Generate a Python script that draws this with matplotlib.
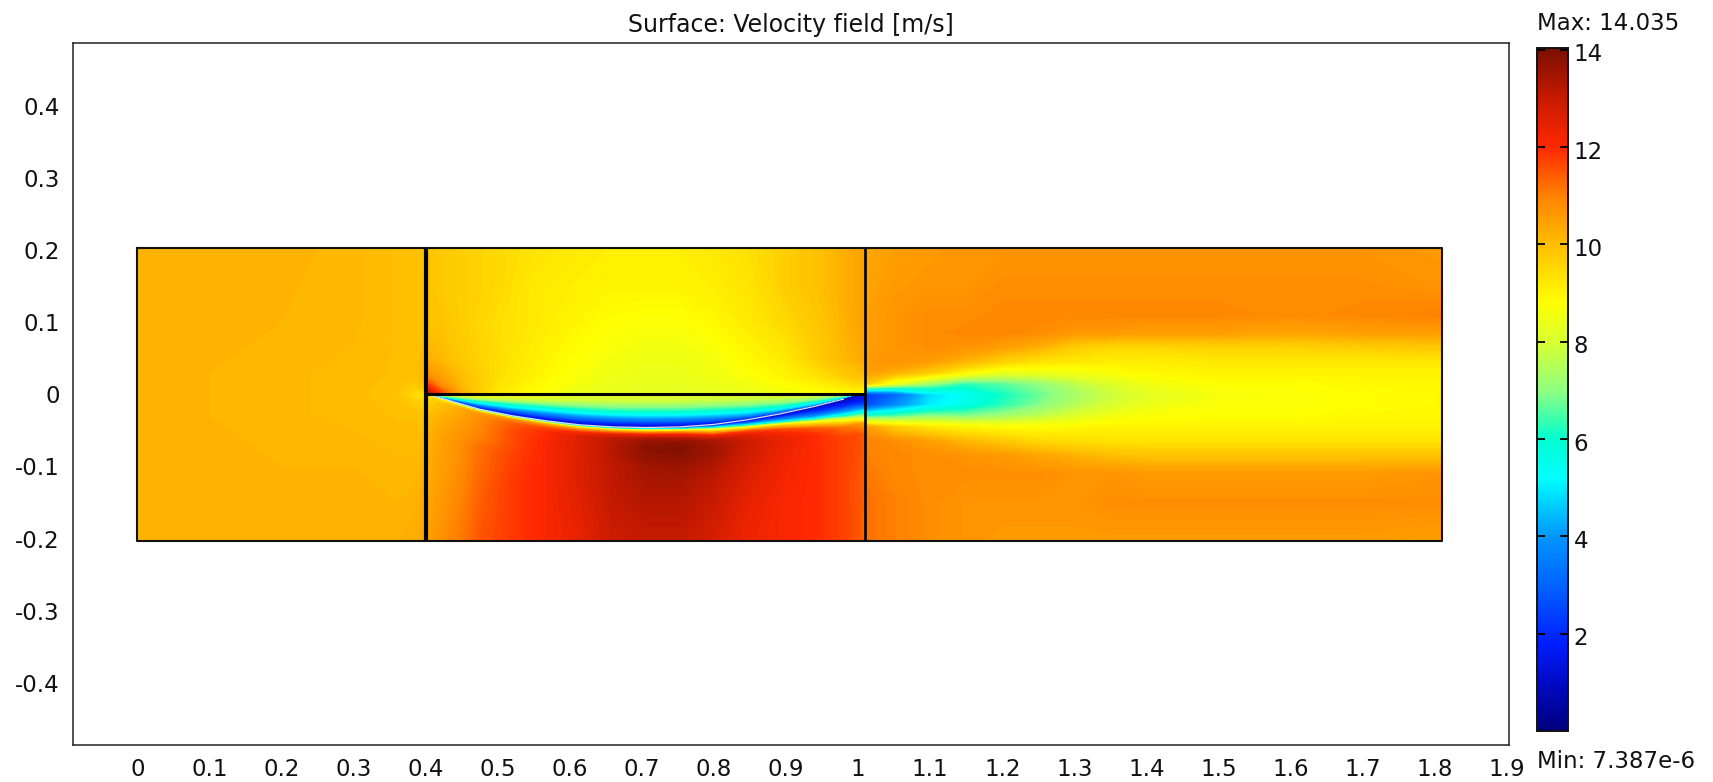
import numpy as np
from matplotlib import pyplot as plt
from matplotlib.cm import ScalarMappable
from matplotlib.colors import LinearSegmentedColormap, Normalize
from matplotlib.transforms import ScaledTranslation

# colour bar
cbar_vals = [0, 0.9, 1.8, 3, 4, 5.2, 6, 7, 8, 8.8, 10, 11, 12, 13, 14.035]
cbar_cols = ["#00007d", "#0008c0", "#001eff", "#0064ff", "#0096ff", "#00ffff", "#00ffcf",
             "#90ff80", "#d8ff30", "#ffff00", "#ffbe00", "#ff8200", "#ff2800", "#c81a00", "#7a0f00"]

# foil arc, bottom edge of the wedge
arc_x = [0.4, 0.41, 0.45, 0.475, 0.521, 0.568, 0.614, 0.66, 0.706, 0.753, 0.799, 0.845, 0.892, 0.938, 0.98, 1.0, 1.01]
arc_y = [0, -0.002, -0.0135, -0.0206, -0.0298, -0.0368, -0.0423, -0.0451, -0.046, -0.0451, -0.0418, -0.0355, -0.027, -0.017, -0.0065, -0.0015, 0]

# inlet part
in_x = [0, 0.1, 0.2, 0.3, 0.36, 0.385, 0.4]
in_y = [0.2035, 0.1, 0.03, 0.01, 0, -0.01, -0.03, -0.1, -0.2035]
in_v = [
    [10.2, 10.2, 10.2, 10.1, 10, 9.95, 9.9],
    [10.2, 10.2, 10.15, 10.1, 10, 10, 10],
    [10.2, 10.15, 10.1, 10.05, 10, 10, 10.1],
    [10.2, 10.15, 10.1, 10.05, 9.95, 9.7, 10.0],
    [10.2, 10.15, 10.1, 10.05, 9.9, 9.35, 9.2],
    [10.2, 10.15, 10.1, 10.05, 9.95, 9.7, 9.5],
    [10.2, 10.15, 10.1, 10.05, 10, 10, 9.9],
    [10.2, 10.2, 10.15, 10.15, 10.1, 10.1, 10.2],
    [10.2, 10.2, 10.2, 10.2, 10.2, 10.3, 10.4],
]

# above the flat line
up_x = [0.4, 0.405, 0.42, 0.45, 0.5, 0.55, 0.6, 0.65, 0.7, 0.75, 0.8, 0.85, 0.9, 0.95, 1.0, 1.01]
up_y = [0, 0.004, 0.012, 0.025, 0.05, 0.1, 0.15, 0.2035]
up_v = [
    [12.8, 13, 11.8, 10.1, 9.1, 8.7, 8.4, 8.3, 8.2, 8.2, 8.2, 8.3, 8.5, 8.8, 8.9, 8.0],
    [12.5, 12.6, 11.6, 10.2, 9.2, 8.8, 8.5, 8.4, 8.3, 8.3, 8.3, 8.4, 8.6, 8.8, 9.0, 8.8],
    [11.5, 11.8, 10.9, 10.1, 9.3, 8.9, 8.6, 8.4, 8.3, 8.3, 8.4, 8.5, 8.8, 9.0, 9.4, 9.4],
    [10.7, 10.8, 10.5, 10, 9.4, 9, 8.7, 8.5, 8.4, 8.4, 8.5, 8.7, 9, 9.4, 9.9, 10],
    [10.2, 10.2, 10.1, 9.8, 9.4, 9.1, 8.8, 8.6, 8.5, 8.5, 8.6, 8.9, 9.2, 9.8, 10.3, 10.4],
    [9.9, 9.9, 9.9, 9.7, 9.4, 9.2, 9, 8.8, 8.7, 8.7, 8.9, 9.2, 9.5, 9.9, 10.4, 10.5],
    [9.9, 9.9, 9.8, 9.7, 9.5, 9.2, 9.1, 9, 9, 9, 9.1, 9.3, 9.7, 10, 10.4, 10.5],
    [9.9, 9.9, 9.8, 9.7, 9.5, 9.3, 9.2, 9.1, 9.1, 9.1, 9.2, 9.4, 9.7, 10, 10.4, 10.5],
]

# wedge between flat line and arc, rows are fractions of the local depth
wedge_f = [0, 0.2, 0.4, 0.6, 0.8, 0.95, 1]
wedge_v = [
    [9, 9, 8.7, 8.6, 8.5, 8.4, 8.3, 8.3, 8.2, 8.2, 8.2, 8.2, 8.3, 8.3, 8.0, 7.5, 4],
    [9, 8.5, 8, 8, 7.9, 7.9, 7.8, 7.8, 7.8, 7.8, 7.7, 7.7, 7.7, 7.6, 7.0, 6.0, 3.5],
    [9, 7, 6.5, 6.5, 6.5, 6.6, 6.7, 6.8, 6.8, 6.8, 6.8, 6.9, 7.0, 7.0, 6.5, 5.5, 3],
    [9, 5, 5, 5, 5, 5, 5.2, 5.3, 5.4, 5.4, 5.5, 5.8, 6.0, 6.0, 5.6, 4.8, 2.6],
    [9, 3, 2.8, 2.8, 2.8, 2.9, 3, 3.1, 3.2, 3.3, 3.6, 4.2, 4.5, 4.6, 4.4, 3.6, 2.2],
    [9, 1.5, 1.2, 1.2, 1.2, 1.2, 1.2, 1.2, 1.3, 1.4, 1.6, 2.0, 2.2, 2.4, 2.4, 2.2, 2],
    [9.0, 3.0, 1.0, 1.0, 1.0, 1.0, 1.0, 0.6, 0.5, 0.5, 0.5, 0.5, 0.6, 0.6, 0.8, 1.2, 2.0],
]

# below the arc: first rows follow the arc by an offset, last rows are fixed levels
low_off = [0, 0.002, 0.004, 0.007, 0.011, 0.016, 0.022, 0.03, 0.04, 0.055]
low_lev = [-0.12, -0.16, -0.2035]
low_v = [
    [9.0, 3.0, 1.0, 1.0, 1.0, 1.0, 1.0, 0.6, 0.5, 0.5, 0.5, 0.5, 0.6, 0.6, 0.8, 1.2, 2.0],
    [9.2, 9.0, 7.0, 7.0, 7.0, 6.5, 6.0, 5.5, 5.0, 4.0, 2.5, 1.6, 1.2, 1.0, 1.0, 1.2, 1.8],
    [9.3, 9.5, 9.8, 10, 10, 9.8, 9.4, 9.0, 8.5, 7.5, 5.0, 2.8, 1.8, 1.4, 1.2, 1.3, 1.6],
    [9.4, 9.7, 10.3, 10.6, 11, 11, 10.9, 10.9, 10.8, 10.5, 8.3, 5.0, 3.2, 2.0, 1.5, 1.5, 1.6],
    [9.5, 9.8, 10.4, 10.8, 11.4, 11.7, 12, 12.4, 12.4, 12.2, 10.5, 9.0, 5.0, 3.0, 2.2, 2.0, 2.0],
    [9.6, 9.9, 10.4, 10.8, 11.5, 12, 12.6, 13.1, 13.4, 13.2, 12.3, 11.6, 9.6, 4.6, 3.5, 3.2, 3.0],
    [9.7, 10, 10.5, 10.9, 11.6, 12, 12.6, 13.2, 13.7, 13.8, 13.3, 12.6, 11.6, 8.8, 5.2, 4.8, 4.8],
    [9.9, 10.1, 10.6, 10.9, 11.6, 12.1, 12.6, 13.2, 13.8, 13.9, 13.5, 12.9, 12.3, 11.4, 8.8, 7.5, 7.2],
    [10, 10.2, 10.7, 11, 11.6, 12.1, 12.6, 13.2, 13.7, 13.8, 13.5, 12.9, 12.4, 12, 11.2, 10.7, 10.4],
    [10.1, 10.3, 10.8, 11.2, 11.7, 12.1, 12.6, 13.1, 13.5, 13.6, 13.3, 12.8, 12.3, 12, 11.7, 11.6, 11.4],
    [10.2, 10.4, 10.9, 11.3, 11.8, 12.1, 12.6, 13.1, 13.4, 13.4, 13.1, 12.6, 12.2, 12, 11.7, 11.5, 11.4],
    [10.3, 10.5, 11, 11.4, 11.8, 12.1, 12.5, 13, 13.2, 13.2, 12.9, 12.4, 12.1, 12, 11.7, 11.5, 11.3],
    [10.4, 10.6, 11.1, 11.5, 11.8, 12.1, 12.4, 12.9, 13.0, 13.0, 12.7, 12.3, 12.1, 12, 11.7, 11.5, 11.3],
]

# wake part
wake_x = [1.01, 1.05, 1.1, 1.15, 1.2, 1.25, 1.3, 1.35, 1.4, 1.5, 1.6, 1.7, 1.81]
wake_y = [0.2035, 0.15, 0.11, 0.085, 0.065, 0.045, 0.03, 0.015, 0, -0.015, -0.03, -0.045, -0.065, -0.085, -0.11, -0.15, -0.2035]
wake_v = [
    [10.4, 10.5, 10.6, 10.7, 10.7, 10.7, 10.7, 10.7, 10.7, 10.7, 10.7, 10.7, 10.6],
    [10.4, 10.6, 10.7, 10.7, 10.8, 10.8, 10.8, 10.8, 10.8, 10.8, 10.8, 10.8, 10.7],
    [10.5, 10.7, 10.8, 10.8, 10.9, 10.9, 10.9, 10.9, 10.9, 10.9, 10.8, 10.9, 11.0],
    [10.5, 10.7, 10.8, 10.9, 10.9, 10.8, 10.6, 10.6, 10.5, 10.5, 10.4, 10.5, 10.5],
    [10.5, 10.7, 10.8, 10.7, 10.5, 10.2, 9.7, 9.5, 9.5, 9.6, 9.6, 9.7, 9.8],
    [10.6, 10.7, 10.5, 10.1, 9.6, 9.3, 9.2, 9.1, 9.1, 9.2, 9.2, 9.2, 9.2],
    [10.5, 10.2, 9.7, 8.9, 8.3, 8.4, 8.5, 8.7, 8.9, 9.0, 9.0, 9.0, 9.0],
    [9.8, 8.4, 7.2, 6.3, 6.6, 7.0, 7.6, 8.1, 8.5, 8.8, 8.8, 8.9, 8.9],
    [2.2, 3.0, 4.8, 5.4, 6.1, 6.7, 7.3, 7.8, 8.2, 8.6, 8.7, 8.8, 8.9],
    [2.5, 3.8, 5.0, 5.6, 6.3, 6.9, 7.5, 8.0, 8.4, 8.7, 8.7, 8.8, 8.9],
    [6.2, 6.5, 7.0, 6.9, 7.2, 7.6, 8.1, 8.5, 8.7, 8.8, 8.8, 8.9, 8.9],
    [10.5, 9.7, 9.2, 8.9, 8.8, 8.8, 8.9, 9, 9, 9, 9, 9, 9.0],
    [11, 10.8, 10.5, 10.1, 9.8, 9.5, 9.4, 9.3, 9.3, 9.3, 9.3, 9.3, 9.3],
    [11, 10.9, 10.8, 10.7, 10.6, 10.4, 10.2, 10.0, 9.9, 9.9, 9.9, 9.9, 9.9],
    [11.1, 10.9, 10.8, 10.8, 10.8, 10.8, 10.7, 10.7, 10.6, 10.6, 10.6, 10.6, 10.7],
    [11.2, 11, 10.8, 10.7, 10.7, 10.7, 10.7, 10.8, 10.8, 10.8, 10.8, 10.8, 10.8],
    [11.2, 11, 10.8, 10.7, 10.6, 10.6, 10.6, 10.6, 10.6, 10.6, 10.6, 10.6, 10.5],
]

x_ticks = [0, 0.1, 0.2, 0.3, 0.4, 0.5, 0.6, 0.7, 0.8, 0.9, 1, 1.1, 1.2, 1.3, 1.4, 1.5, 1.6, 1.7, 1.8, 1.9]
y_ticks = [-0.4, -0.3, -0.2, -0.1, 0, 0.1, 0.2, 0.3, 0.4]
cbar_ticks = [2, 4, 6, 8, 10, 12, 14]

W, H = 1713, 782
FONT = 16.5
TEXT = "#111111"


def px_axes(fig, left, top, right, bottom):
    return fig.add_axes([left / W, 1 - bottom / H, (right - left) / W, (bottom - top) / H])


def tick_text(v):
    return "0" if v == 0 else f"{v:g}"


fig = plt.figure(figsize=(W / 100, H / 100), dpi=100)
ax = px_axes(fig, 72.5, 43, 1509, 745)

vmax = cbar_vals[-1]
cmap = LinearSegmentedColormap.from_list(
    "field", [(v / vmax, c) for v, c in zip(cbar_vals, cbar_cols)], N=512
)
norm = Normalize(0, vmax)
levels = np.arange(0, 14.1, 0.07)


def fill(X, Y, V):
    ax.contourf(X, Y, np.array(V), levels=levels, cmap=cmap, norm=norm, antialiased=False)


fill(*np.meshgrid(in_x, in_y), in_v)
fill(*np.meshgrid(up_x, up_y), up_v)
fill(*np.meshgrid(wake_x, wake_y), wake_v)

# wedge and lower part sit on grids that bend with the arc
arc_a = np.array(arc_y)
Xw = np.tile(arc_x, (len(wedge_f), 1))
Yw = np.outer(wedge_f, arc_a)
fill(Xw, Yw, wedge_v)

Yl = np.vstack([arc_a - o for o in low_off] + [np.full_like(arc_a, lv) for lv in low_lev])
Xl = np.tile(arc_x, (Yl.shape[0], 1))
fill(Xl, Yl, low_v)

# white trace along the arc
ax.plot(arc_x[1:-2], arc_y[1:-2], color="#dcdcf0", lw=0.9, solid_capstyle="round")

# block outlines
top, bot = in_y[0], in_y[-1]
x0, xa, xb, x1 = in_x[0], in_x[-1], wake_x[0], wake_x[-1]
ax.plot([x0, x1, x1, x0, x0], [top, top, bot, bot, top], color="#111111", lw=1.5, solid_joinstyle="round")
ax.plot([xa, xa], [bot, top], color="black", lw=3.0, solid_capstyle="butt")
ax.plot([xb, xb], [bot, top], color="black", lw=1.9, solid_capstyle="butt")
ax.plot([xa, xb], [0, 0], color="black", lw=2.2, solid_capstyle="butt")

ax.set_xlim(-0.09, 1.903)
ax.set_ylim(-0.4865, 0.4875)
ax.set_xticks(x_ticks, [tick_text(v) for v in x_ticks])
ax.set_yticks(y_ticks, [tick_text(v) for v in y_ticks])
ax.tick_params(length=0, labelsize=FONT, labelcolor=TEXT, pad=9)
for s in ax.spines.values():
    s.set_linewidth(1.1)
    s.set_color("#222222")
ax.set_title("Surface: Velocity field [m/s]", fontsize=17, color=TEXT, pad=8)

# colour bar
cax = px_axes(fig, 1537, 48, 1568, 731)
sm = ScalarMappable(norm=norm, cmap=cmap)
cb = fig.colorbar(sm, cax=cax, ticks=cbar_ticks)
cb.outline.set_linewidth(1.4)
cb.outline.set_edgecolor("#111111")
cax.tick_params(axis="y", direction="in", left=True, right=True, length=6, width=1.3, color="black",
                labelsize=FONT, labelcolor=TEXT, pad=4)
# labels sit a little under their ticks in the reference
shift = ScaledTranslation(0, -2.5 / 100, fig.dpi_scale_trans)
for lab in cax.get_yticklabels():
    lab.set_transform(lab.get_transform() + shift)

fig.text(1537 / W, 1 - 24 / H, "Max: 14.035", fontsize=FONT, color=TEXT, ha="left", va="center")
fig.text(1537 / W, 1 - 762 / H, "Min: 7.387e-6", fontsize=FONT, color=TEXT, ha="left", va="center")

fig.savefig("out.png", dpi=100)
